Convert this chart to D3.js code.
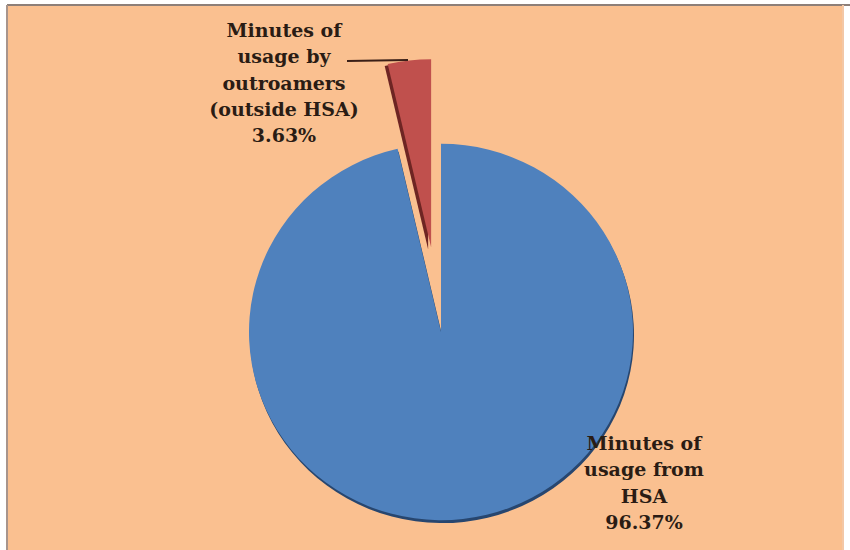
<!DOCTYPE html>
<html>
<head>
<meta charset="utf-8">
<script src="https://cdn.jsdelivr.net/npm/d3@7"></script>
<style>
  html, body { margin: 0; padding: 0; background: #ffffff; }
  svg { display: block; }
</style>
</head>
<body>
<svg id="chart" width="850" height="550"></svg>
<script>
// ---- data ----
const categories = ["Minutes of usage from HSA", "Minutes of usage by outroamers (outside HSA)"];
const values = [96.37, 3.63];
const labelLines = [
  ["Minutes of", "usage from", "HSA", "96.37%"],
  ["Minutes of", "usage by", "outroamers", "(outside HSA)", "3.63%"]
];
const colors = ["#4F81BD", "#C0504D"];
const sideColors = ["#27466f", "#6e2523"];

// ---- layout ----
const W = 850, H = 550;
const cx = 441, cy = 332, R = 192;
const explode = [0, 87];

const svg = d3.select("#chart");

// frame
svg.append("rect").attr("x", 0).attr("y", 0).attr("width", W).attr("height", H).attr("fill", "#ffffff");
svg.append("rect").attr("x", 7).attr("y", 5).attr("width", 836).attr("height", 570)
  .attr("fill", "#FAC090");
svg.append("line").attr("x1", 7).attr("y1", 5).attr("x2", 850).attr("y2", 5)
  .attr("stroke", "#8d7f78").attr("stroke-width", 2);
svg.append("line").attr("x1", 7).attr("y1", 5).attr("x2", 7).attr("y2", 550)
  .attr("stroke", "#a8958c").attr("stroke-width", 2);
svg.append("line").attr("x1", 843).attr("y1", 5).attr("x2", 843).attr("y2", 550)
  .attr("stroke", "#f3c7a6").attr("stroke-width", 2);

const pie = d3.pie().sort(null).value(d => d)
  .startAngle(0).endAngle(2 * Math.PI);
const arcs = pie(values);
const arc = d3.arc().innerRadius(0).outerRadius(R);

function offset(d, i) {
  const mid = (d.startAngle + d.endAngle) / 2;
  return [Math.sin(mid) * explode[i], -Math.cos(mid) * explode[i]];
}

const g = svg.append("g").attr("transform", `translate(${cx},${cy}) scale(1,0.98)`);

// side / thickness faces
g.selectAll("path.side").data(arcs).join("path")
  .attr("class", "side")
  .attr("d", arc)
  .attr("fill", (d, i) => sideColors[i])
  .attr("transform", (d, i) => {
    const [dx, dy] = offset(d, i);
    return i === 0 ? `translate(${dx + 1},${dy + 3})` : `translate(${dx - 3},${dy + 2})`;
  });

// top faces
g.selectAll("path.top").data(arcs).join("path")
  .attr("class", "top")
  .attr("d", arc)
  .attr("fill", (d, i) => colors[i])
  .attr("transform", (d, i) => {
    const [dx, dy] = offset(d, i);
    return `translate(${dx},${dy})`;
  });

// leader line for small slice
svg.append("line")
  .attr("x1", 347).attr("y1", 61)
  .attr("x2", 408).attr("y2", 60)
  .attr("stroke", "#3a1f17").attr("stroke-width", 2);

// labels
const labelPos = [
  { x: 644, y: 450 },
  { x: 284, y: 37 }
];
labelLines.forEach((lines, i) => {
  const t = svg.append("text")
    .attr("text-anchor", "middle")
    .attr("font-family", "DejaVu Serif, serif")
    .attr("font-size", 19)
    .attr("font-weight", "bold")
    .attr("fill", "#2a1c14");
  lines.forEach((ln, j) => {
    t.append("tspan").attr("x", labelPos[i].x).attr("y", labelPos[i].y + j * 26.3).text(ln);
  });
});
</script>
</body>
</html>
